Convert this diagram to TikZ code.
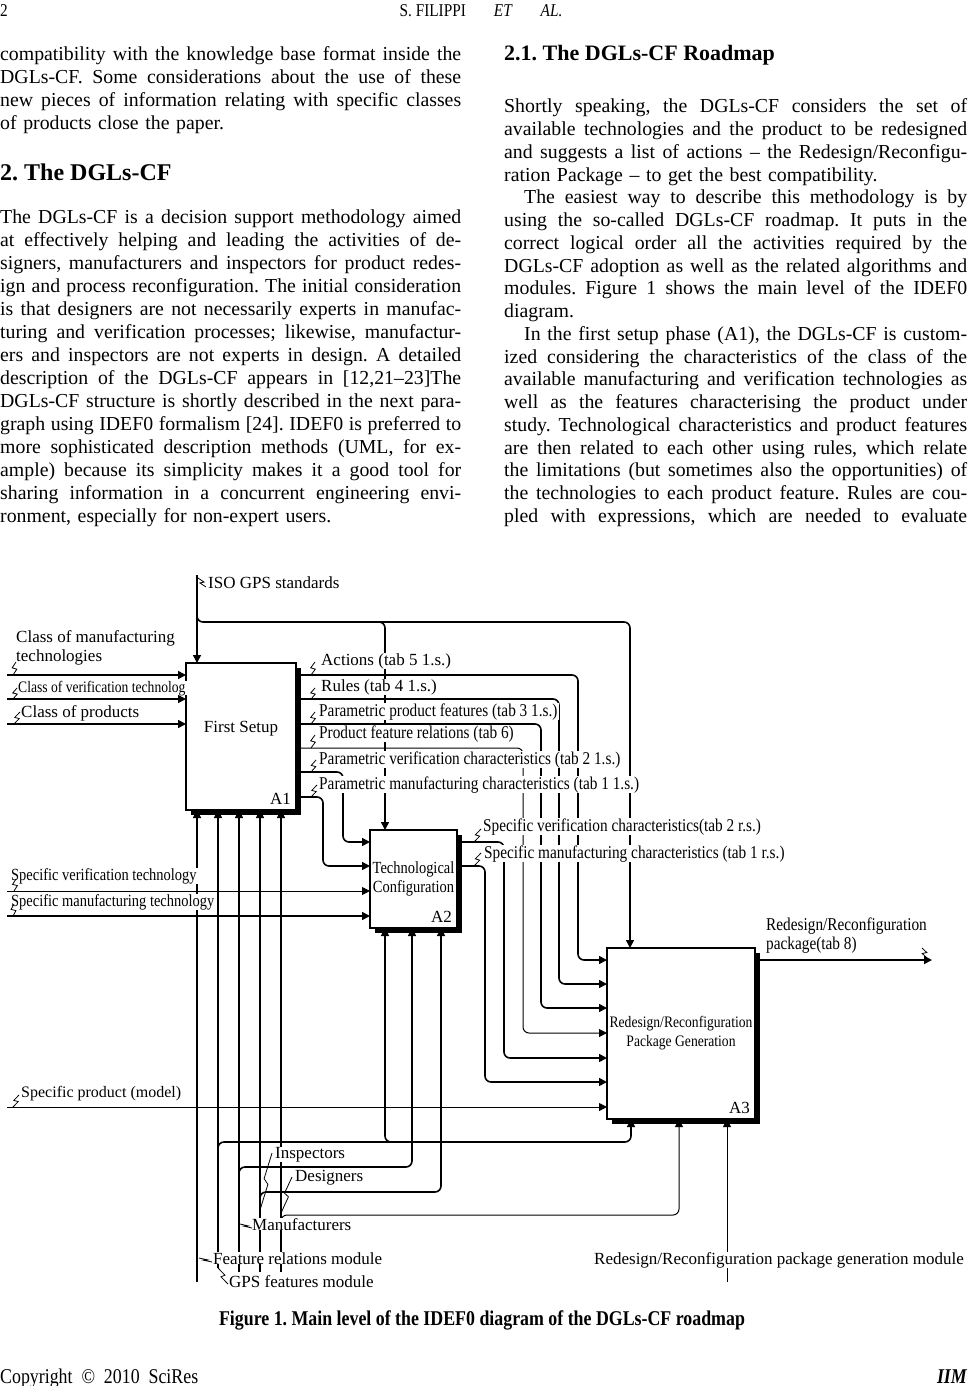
\documentclass[tikz,border=0pt]{standalone}
\usepackage{fontspec}
\setmainfont{Liberation Serif}
\newfontfamily\cndfont[FakeStretch=0.85]{Liberation Serif}
\usetikzlibrary{arrows.meta, calc, shadows}
\setlength{\parskip}{0pt}
\frenchspacing
\newcommand\jl[1]{\noindent\hbox to461pt{\spaceskip=0.25em plus 0.3em minus 0.08em #1}\par}
\newcommand\jll[1]{\noindent\hbox to461pt{#1\hfil}\par}
\newcommand\jr[1]{\noindent\hbox to463pt{\spaceskip=0.25em plus 0.3em minus 0.08em #1}\par}
\newcommand\jrr[1]{\noindent\hbox to463pt{#1\hfil}\par}
\newcommand\squig[2]{\draw[sq] #1 -- ($#1!0.45!#2+(2.5,0)$) -- ($#1!0.55!#2-(2.5,0)$) -- #2;}
\tikzset{
  box/.style={draw, line width=1.5pt, fill=white, outer sep=0pt, inner sep=1pt, align=center, font=\fontsize{17}{19}\selectfont, drop shadow={opacity=1, fill=black, shadow xshift=5pt, shadow yshift=-5pt}},
  boxid/.style={font=\fontsize{17}{19}\selectfont, inner sep=5pt},
  flow/.style={line width=1.6pt, rounded corners=6pt, -{Triangle[length=8pt, width=8pt]}},
  thinflow/.style={flow, line width=1pt},
  lbl/.style={font=\fontsize{17}{19}\selectfont, anchor=base west, fill=white, inner xsep=1pt, inner ysep=0pt},
  cnd/.style={lbl, font=\cndfont\fontsize{18}{19}\selectfont},
  sq/.style={line width=0.8pt},
  para/.style={text width=#1, inner sep=0pt, anchor=base west, font=\fontsize{19.8}{23}\selectfont},
  head/.style={inner sep=0pt, anchor=base west, font=\bfseries\fontsize{24}{26}\selectfont},
}
\begin{document}
\begin{tikzpicture}[x=1pt, y=-1pt]
\useasboundingbox (0,0) rectangle (967,1386);

% running head
\node[anchor=base west, inner sep=0pt, font=\cndfont\fontsize{18}{20}\selectfont] (pgno) at (0,17) {2};
\node[anchor=base, inner sep=0pt, font=\cndfont\fontsize{18}{20}\selectfont] (runhead) at (481,17) {S. FILIPPI\hspace{28pt}\textit{ET}\hspace{28pt}\textit{AL.}};

% left column
\node[para=461pt] (parz) at (0,61) {%
\jl{compatibility with the knowledge base format inside the}%
\jl{DGLs-CF. Some considerations about the use of these}%
\jl{new pieces of information relating with specific classes}%
\jll{of products close the paper.}};
\node[head] (secdgl) at (0,180) {2. The DGLs-CF};
\node[para=461pt] (parone) at (0,223) {%
\jl{The DGLs-CF is a decision support methodology aimed}%
\jl{at effectively helping and leading the activities of de-}%
\jl{signers, manufacturers and inspectors for product redes-}%
\jl{ign and process reconfiguration. The initial consideration}%
\jl{is that designers are not necessarily experts in manufac-}%
\jl{turing and verification processes; likewise, manufactur-}%
\jl{ers and inspectors are not experts in design. A detailed}%
\jl{description of the DGLs-CF appears in [12,21–23]The}%
\jl{DGLs-CF structure is shortly described in the next para-}%
\jl{graph using IDEF0 formalism [24]. IDEF0 is preferred to}%
\jl{more sophisticated description methods (UML, for ex-}%
\jl{ample) because its simplicity makes it a good tool for}%
\jl{sharing information in a concurrent engineering envi-}%
\jll{ronment, especially for non-expert users.}};

% right column
\node[head, font=\bfseries\fontsize{22}{24}\selectfont] (secmap) at (504,61) {2.1. The DGLs-CF Roadmap};
\node[para=463pt, font=\fontsize{19.8}{22.75}\selectfont] (partwo) at (504,113) {%
\jr{Shortly speaking, the DGLs-CF considers the set of}%
\jr{available technologies and the product to be redesigned}%
\jr{and suggests a list of actions – the Redesign/Reconfigu-}%
\jrr{ration Package – to get the best compatibility.}%
\jr{\kern20pt The easiest way to describe this methodology is by}%
\jr{using the so-called DGLs-CF roadmap. It puts in the}%
\jr{correct logical order all the activities required by the}%
\jr{DGLs-CF adoption as well as the related algorithms and}%
\jr{modules. Figure 1 shows the main level of the IDEF0}%
\jrr{diagram.}%
\jr{\kern20pt In the first setup phase (A1), the DGLs-CF is custom-}%
\jr{ized considering the characteristics of the class of the}%
\jr{available manufacturing and verification technologies as}%
\jr{well as the features characterising the product under}%
\jr{study. Technological characteristics and product features}%
\jr{are then related to each other using rules, which relate}%
\jr{the limitations (but sometimes also the opportunities) of}%
\jr{the technologies to each product feature. Rules are cou-}%
\jr{pled with expressions, which are needed to evaluate}};

% activity boxes
\node[box, minimum width=110pt, minimum height=147pt,
      label={[boxid, anchor=south east]south east:A1}] (a1) at (241,736.5) {First Setup\\[1pt]};
\node[box, minimum width=87pt, minimum height=98pt, font=\cndfont\fontsize{17}{19}\selectfont,
      label={[boxid, anchor=south east]south east:A2}] (a2) at (413.5,879) {Technological\\Configuration};
\node[box, minimum width=148pt, minimum height=171pt, font=\cndfont\fontsize{16}{19}\selectfont,
      label={[boxid, anchor=south east]south east:A3}] (a3) at (681,1033.5) {Redesign/Reconfiguration\\Package Generation};

% free ends
\coordinate (cmt) at (7,675);
\coordinate (cvt) at (7,699);
\coordinate (cpr) at (7,724);
\coordinate (svt) at (7,891);
\coordinate (smt) at (7,916);
\coordinate (spm) at (7,1107);
\coordinate (iso) at (197,575);
\coordinate (rrp) at (932,960);
\coordinate (frm) at (197,1282);
\coordinate (gps) at (218,1268);
\coordinate (man) at (239,1272);
\coordinate (ins) at (260,1272);
\coordinate (des) at (281,1272);
\coordinate (rrm) at (727,1282);

% inputs
\draw[flow] (cmt) -- (a1.west |- cmt);
\draw[flow] (cvt) -- (a1.west |- cvt);
\draw[flow] (cpr) -- (a1.west |- cpr);
\draw[thinflow] (svt) -- (a2.west |- svt);
\draw[flow] (smt) -- (a2.west |- smt);
\draw[thinflow] (spm) -- (a3.west |- spm);

% controls
\draw[flow] (iso) -- (a1.north -| iso);
\draw[flow] (197,600) |- (630,622) -- (a3.north -| 630,0);
\draw[flow] (370,622) -| (a2.north -| 385,0);

% outputs of A1
\draw[flow] (a1.east |- 0,675) -| (578,960) -- (a3.west |- 0,960);
\draw[flow] (a1.east |- 0,699) -| (559,984) -- (a3.west |- 0,984);
\draw[flow] (a1.east |- 0,724) -| (541,1008) -- (a3.west |- 0,1008);
\draw[thinflow] (a1.east |- 0,748) -| (523,1033) -- (a3.west |- 0,1033);
\draw[flow] (a1.east |- 0,772) -| (343,842) -- (a2.west |- 0,842);
\draw[flow] (a1.east |- 0,797) -| (323,866) -- (a2.west |- 0,866);
% outputs of A2 and A3
\draw[flow] (a2.east |- 0,842) -| (504,1058) -- (a3.west |- 0,1058);
\draw[flow] (a2.east |- 0,866) -| (485,1082) -- (a3.west |- 0,1082);
\draw[flow] (a3.east |- rrp) -- (rrp);

% mechanisms
\foreach \c in {frm,gps,man,ins,des}
  \draw[flow] (\c) -- (a1.south -| \c);
\draw[flow] (218,1160) |- (631,1142) -- (a3.south -| 631,0);
\draw[flow] (395,1142) -| (a2.south -| 385,0);
\draw[flow] (239,1180) |- (412,1167) -- (a2.south -| 412,0);
\draw[flow] (260,1205) |- (441,1192) -- (a2.south -| 441,0);
\draw[thinflow] (281,1228) |- (679,1215) -- (a3.south -| 679,0);
\draw[thinflow] (rrm) -- (a3.south -| rrm);

% arrow labels
\node[lbl, anchor=west, align=left, fill=none] (lcmt) at (15,647.5) {Class of manufacturing\\technologies};
\node[cnd, font=\cndfont\fontsize{16}{18}\selectfont] (lcvt) at (17,692) {Class of verification technolog};
\node[lbl] (lcpr) at (20,717) {Class of products};
\node[lbl] (liso) at (207,588) {ISO GPS standards};
\node[lbl] (lact) at (320,665) {Actions (tab 5 1.s.)};
\node[lbl] (lrul) at (320,691) {Rules (tab 4 1.s.)};
\node[cnd] (lppf) at (318,716) {Parametric product features (tab 3 1.s.)};
\node[cnd] (lpfr) at (318,738) {Product feature relations (tab 6)};
\node[cnd] (lpvc) at (318,764) {Parametric verification characteristics (tab 2 1.s.)};
\node[cnd] (lpmc) at (318,789) {Parametric manufacturing characteristics (tab 1 1.s.)};
\node[cnd] (lsvc) at (482,831) {Specific verification characteristics(tab 2 r.s.)};
\node[cnd] (lsmc) at (483,858) {Specific manufacturing characteristics (tab 1 r.s.)};
\node[cnd, font=\cndfont\fontsize{17}{19}\selectfont] (lsvt) at (10,880) {Specific verification technology};
\node[cnd, font=\cndfont\fontsize{17}{19}\selectfont] (lsmt) at (10,906) {Specific manufacturing technology};
\node[cnd, anchor=west, align=left, fill=none] (lrrp) at (765,936) {Redesign/Reconfiguration\\package(tab 8)};
\node[lbl, font=\fontsize{16}{18}\selectfont] (lspm) at (20,1097) {Specific product (model)};
\node[lbl] (lins) at (274,1158) {Inspectors};
\node[lbl] (ldes) at (294,1181) {Designers};
\node[lbl] (lman) at (251,1230) {Manufacturers};
\node[lbl] (lfrm) at (212,1264) {Feature relations module};
\node[lbl] (lgps) at (228,1287) {GPS features module};
\node[lbl] (lrrm) at (593,1264) {Redesign/Reconfiguration package generation module};

% squiggles
\squig{(13,675)}{(16,662)}
\squig{(13,699)}{(17,688)}
\squig{(14,724)}{(20,712)}
\squig{(198,578)}{(206,587)}
\squig{(311,675)}{(315,662)}
\squig{(311,699)}{(315,688)}
\squig{(311,724)}{(315,712)}
\squig{(311,748)}{(315,735)}
\squig{(311,772)}{(316,760)}
\squig{(311,797)}{(317,785)}
\squig{(474,842)}{(481,829)}
\squig{(474,866)}{(481,853)}
\squig{(14,891)}{(16,879)}
\squig{(13,916)}{(14,904)}
\squig{(13,1107)}{(19,1095)}
\squig{(922,948)}{(927,958)}
\squig{(260,1210)}{(272,1153)}
\squig{(281,1213)}{(292,1177)}
\squig{(240,1224)}{(252,1228)}
\squig{(199,1258)}{(212,1262)}
\squig{(218,1268)}{(228,1284)}

% caption and footer
\node[anchor=base, inner sep=0pt, font=\cndfont\bfseries\fontsize{21}{23}\selectfont] (caption) at (482,1325) {Figure 1. Main level of the IDEF0 diagram of the DGLs-CF roadmap};
\node[anchor=base west, inner sep=0pt, font=\cndfont\fontsize{21}{23}\selectfont] (copyr) at (0,1383) {Copyright\ \ ©\ \ 2010\ \ SciRes};
\node[anchor=base east, inner sep=0pt, font=\cndfont\bfseries\itshape\fontsize{21}{23}\selectfont] (journal) at (967,1383) {IIM};
\end{tikzpicture}
\end{document}
